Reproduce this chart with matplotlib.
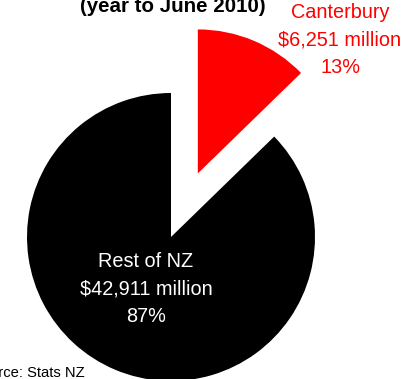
import matplotlib
matplotlib.use("Agg")
import matplotlib.pyplot as plt

plt.rcParams['font.family'] = ['Liberation Sans', 'DejaVu Sans']

# GDP by region, year to June 2010 ($ million)
regions = ['Canterbury', 'Rest of NZ']
gdp = [6251, 42911]
colours = ['#ff0000', '#000000']

total = sum(gdp)
shares = [v / total * 100 for v in gdp]

fig = plt.figure(figsize=(4.07, 3.79), dpi=100)
ax = fig.add_axes([0, 0, 1, 1])

# pie measured in pixels so it lines up with the frame
# (explode is in data units here, not a fraction of the radius)
ax.pie(gdp, colors=colours, startangle=90, counterclock=False,
       explode=[69, 0], radius=144, center=(171, 142),
       wedgeprops={'linewidth': 0})
ax.set_xlim(0, 407)
ax.set_ylim(0, 379)
ax.set_aspect('equal')
ax.axis('off')

ax.text(173, 373, '(year to June 2010)', ha='center', va='center',
        fontsize=14.8, fontweight='bold')

ax.text(340, 339, '%s\n$%s million\n%d%%' % (regions[0], format(gdp[0], ','), round(shares[0])),
        ha='center', va='center', color='#ff0000', fontsize=14.3, linespacing=1.58)
ax.text(146, 90, '%s\n$%s million\n%d%%' % (regions[1], format(gdp[1], ','), round(shares[1])),
        ha='center', va='center', color='white', fontsize=14.3, linespacing=1.58)

ax.text(-28, 6, 'Source: Stats NZ', ha='left', va='center', fontsize=10.6)

fig.savefig('out.png', dpi=100)
